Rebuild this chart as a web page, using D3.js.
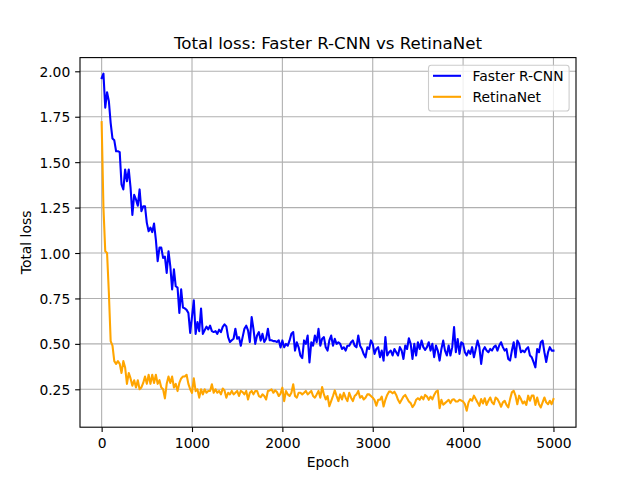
<!DOCTYPE html>
<html>
<head>
<meta charset="utf-8">
<script src="https://cdn.jsdelivr.net/npm/d3@7"></script>
<style>
  html, body { margin: 0; padding: 0; background: #fff; }
  svg { display: block; font-family: "DejaVu Sans", sans-serif; }
</style>
</head>
<body>
<svg id="chart" width="640" height="480"></svg>
<script>
// ---- data ----
const epochs = d3.range(0, 5001, 20);
const fasterRCNN = [
  1.963,1.987,1.80,1.885,1.835,1.715,1.63,1.62,1.56,1.56,
  1.555,1.377,1.35,1.46,1.395,1.46,1.36,1.21,1.32,1.295,
  1.26,1.35,1.23,1.257,1.257,1.166,1.12,1.14,1.115,1.162,
  1.074,0.955,1.03,1.03,0.973,0.98,0.89,1.01,0.927,0.80,
  0.91,0.817,0.81,0.67,0.80,0.70,0.695,0.687,0.67,0.56,
  0.65,
  0.74,0.555,0.62,0.57,0.695,0.555,0.575,0.595,0.58,0.60,
  0.57,0.565,0.57,0.555,0.578,0.565,0.593,0.607,0.596,0.537,
  0.51,0.52,0.528,0.583,0.528,0.537,0.49,0.537,0.583,0.60,
  0.574,0.51,0.648,0.583,0.50,0.546,0.565,0.518,0.555,0.51,
  0.528,0.583,0.52,0.52,0.515,0.515,0.51,0.52,0.48,
  0.519,0.481,0.50,0.49,0.519,0.556,0.565,0.463,0.509,0.481,
  0.435,0.422,0.519,0.50,0.546,0.398,0.509,0.49,0.546,0.509,
  0.583,0.49,0.528,0.537,0.481,0.463,0.519,0.546,0.49,0.528,
  0.50,0.509,0.50,0.472,0.481,0.463,0.49,0.49,0.509,0.519,
  0.49,0.481,0.546,0.49,0.472,0.444,0.426,0.481,0.472,0.519,
  0.50,
  0.445,0.472,0.482,0.427,0.463,0.408,0.537,0.436,0.454,0.463,
  0.436,0.472,0.454,0.436,0.482,0.463,0.417,0.491,0.472,0.531,
  0.50,0.417,0.50,0.436,0.509,0.472,0.518,0.482,0.467,0.482,
  0.509,0.463,0.50,0.427,0.491,0.463,0.408,0.472,0.518,0.463,
  0.436,0.491,0.436,0.482,0.592,0.454,0.527,0.445,0.509,0.50,
  0.454,0.436,0.463,0.445,0.482,0.426,0.472,0.518,0.482,0.39,
  0.463,0.482,0.463,0.454,0.472,0.463,0.482,0.491,0.463,0.491,
  0.509,0.482,0.463,0.472,0.417,0.408,0.463,0.509,0.426,0.518,
  0.50,0.454,0.463,0.454,0.472,0.482,0.436,0.426,0.40,0.371,
  0.472,0.454,0.509,0.518,0.454,0.40,0.454,0.482,0.463,0.463
];
const retinaNet = [
  1.72,1.25,1.01,1.00,0.78,0.515,0.49,0.405,0.39,0.405,
  0.39,0.34,0.405,0.37,0.28,0.34,0.31,0.27,0.30,0.26,
  0.30,0.25,0.26,0.285,0.32,0.28,0.33,0.28,0.33,0.285,
  0.33,0.28,0.30,0.26,0.25,0.20,0.28,0.32,0.285,0.32,
  0.26,0.28,0.24,0.285,0.31,0.32,0.32,0.33,0.28,0.25,
  0.23,
  0.31,0.24,0.25,0.204,0.25,0.222,0.25,0.231,0.241,0.241,
  0.278,0.231,0.25,0.231,0.241,0.222,0.254,0.244,0.204,0.231,
  0.222,0.241,0.222,0.231,0.241,0.213,0.241,0.235,0.222,0.241,
  0.194,0.231,0.241,0.222,0.241,0.241,0.213,0.207,0.222,0.213,
  0.194,0.241,0.244,0.25,0.231,0.244,0.235,0.213,0.226,
  0.259,0.185,0.241,0.222,0.213,0.231,0.278,0.213,0.204,0.231,
  0.231,0.222,0.231,0.241,0.222,0.231,0.241,0.213,0.204,0.222,
  0.241,0.204,0.263,0.222,0.194,0.213,0.157,0.185,0.213,0.244,
  0.213,0.185,0.222,0.194,0.231,0.204,0.185,0.231,0.204,0.185,
  0.213,0.222,0.241,0.204,0.213,0.194,0.204,0.222,0.222,0.213,
  0.204,
  0.19,0.16,0.192,0.192,0.21,0.155,0.192,0.219,0.237,0.237,
  0.228,0.237,0.219,0.192,0.174,0.192,0.21,0.219,0.201,0.183,
  0.174,0.152,0.165,0.192,0.201,0.192,0.21,0.195,0.219,0.21,
  0.192,0.21,0.195,0.219,0.237,0.243,0.146,0.192,0.165,0.174,
  0.183,0.192,0.174,0.192,0.195,0.183,0.183,0.192,0.188,0.183,
  0.168,0.132,0.178,0.196,0.187,0.215,0.196,0.178,0.159,0.196,
  0.172,0.201,0.164,0.187,0.205,0.178,0.168,0.205,0.196,0.178,
  0.154,0.178,0.187,0.164,0.15,0.196,0.233,0.242,0.215,0.168,
  0.215,0.196,0.172,0.183,0.164,0.215,0.187,0.215,0.215,0.164,
  0.205,0.168,0.15,0.178,0.205,0.178,0.168,0.187,0.168,0.196
];
const seriesNames = ["Faster R-CNN", "RetinaNet"];
const seriesColors = ["#0000ff", "#ffa500"];
const xTicks = [0, 1000, 2000, 3000, 4000, 5000];
const yTicks = [0.25, 0.50, 0.75, 1.00, 1.25, 1.50, 1.75, 2.00];
const titleText = "Total loss: Faster R-CNN vs RetinaNet";
const xLabel = "Epoch";
const yLabel = "Total loss";

// ---- layout ----
const W = 640, H = 480;
const mLeft = 80, mRight = 576, mTop = 57.6, mBottom = 427.2;
const FS = 13.89;

const svg = d3.select("#chart");
svg.append("rect").attr("width", W).attr("height", H).attr("fill", "#fff");

const x = d3.scaleLinear().domain([-239.5, 5249.5]).range([mLeft, mRight]);
const y = d3.scaleLinear().domain([0.0414, 2.0754]).range([mBottom, mTop]);

// grid
const grid = svg.append("g");
grid.selectAll("line.gx").data(xTicks).join("line").attr("class", "gx")
  .attr("x1", d => x(d)).attr("x2", d => x(d))
  .attr("y1", mTop).attr("y2", mBottom)
  .attr("stroke", "#b0b0b0").attr("stroke-width", 1.1);
grid.selectAll("line.gy").data(yTicks).join("line").attr("class", "gy")
  .attr("x1", mLeft).attr("x2", mRight)
  .attr("y1", d => y(d)).attr("y2", d => y(d))
  .attr("stroke", "#b0b0b0").attr("stroke-width", 1.1);

// lines
const series = [fasterRCNN, retinaNet];
const line = d3.line().x((d, i) => x(epochs[i])).y(d => y(d));
series.forEach((s, k) => {
  svg.append("path").datum(s)
    .attr("d", line)
    .attr("fill", "none")
    .attr("stroke", seriesColors[k])
    .attr("stroke-width", 2.08)
    .attr("stroke-linejoin", "round")
    .attr("stroke-linecap", "square");
});

// axes
const xAxis = d3.axisBottom(x).tickValues(xTicks).tickFormat(d3.format("d"))
  .tickSizeInner(4.86).tickSizeOuter(0).tickPadding(4.86);
const yAxis = d3.axisLeft(y).tickValues(yTicks).tickFormat(d3.format(".2f"))
  .tickSizeInner(4.86).tickSizeOuter(0).tickPadding(4.86);

const gx = svg.append("g").attr("transform", `translate(0,${mBottom})`).call(xAxis);
const gy = svg.append("g").attr("transform", `translate(${mLeft},0)`).call(yAxis);
[gx, gy].forEach(g => {
  g.select(".domain").remove();
  g.selectAll(".tick line").attr("stroke", "#000").attr("stroke-width", 1.1);
  g.selectAll(".tick text").attr("fill", "#000")
    .style("font-family", "DejaVu Sans").style("font-size", FS + "px");
});
gx.selectAll(".tick text").attr("dy", null).attr("y", 20.9);
gy.selectAll(".tick text").attr("dy", "0.36em");

// spines
svg.append("rect").attr("x", mLeft).attr("y", mTop)
  .attr("width", mRight - mLeft).attr("height", mBottom - mTop)
  .attr("fill", "none").attr("stroke", "#000").attr("stroke-width", 1.1);

// title & labels
svg.append("text").attr("x", (mLeft + mRight) / 2).attr("y", 49.3)
  .attr("text-anchor", "middle").style("font-size", "16.67px").attr("fill", "#000")
  .text(titleText);
svg.append("text").attr("x", (mLeft + mRight) / 2).attr("y", 467)
  .attr("text-anchor", "middle").style("font-size", FS + "px").attr("fill", "#000")
  .text(xLabel);
svg.append("text")
  .attr("transform", `translate(31,${(mTop + mBottom) / 2}) rotate(-90)`)
  .attr("text-anchor", "middle").style("font-size", FS + "px").attr("fill", "#000")
  .text(yLabel);

// legend
const lg = svg.append("g");
lg.append("rect").attr("x", 428.5).attr("y", 65.2).attr("width", 140.6).attr("height", 45.8)
  .attr("rx", 2.8).attr("ry", 2.8)
  .attr("fill", "#fff").attr("fill-opacity", 0.8)
  .attr("stroke", "#cccccc").attr("stroke-width", 1.1);
seriesNames.forEach((name, k) => {
  const cy = 75.8 + k * 21;
  lg.append("line").attr("x1", 433).attr("x2", 461).attr("y1", cy).attr("y2", cy)
    .attr("stroke", seriesColors[k]).attr("stroke-width", 2.08);
  lg.append("text").attr("x", 472.5).attr("y", cy + 5)
    .style("font-size", FS + "px").attr("fill", "#000").text(name);
});
</script>
</body>
</html>
